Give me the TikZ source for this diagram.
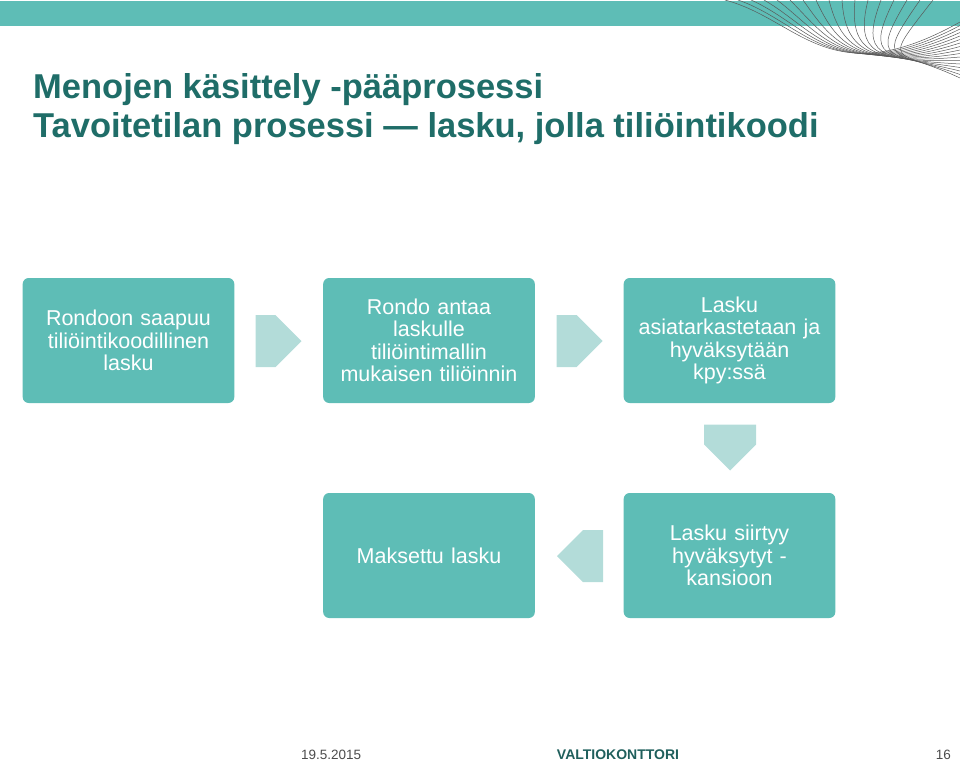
\documentclass[tikz,border=0pt]{standalone}
\usepackage{fontspec}
\setmainfont{Liberation Sans}
\usetikzlibrary{positioning, shapes.arrows}
\definecolor{boxcolor}{HTML}{5EBDB6}
\definecolor{arrowcolor}{HTML}{B3DCD9}
\definecolor{titlecolor}{HTML}{1F6D68}
\definecolor{footcolor}{HTML}{1F5F5C}
\tikzstyle{box} = [fill=boxcolor, rounded corners=6pt, minimum width=211pt, minimum height=125pt, text width=205pt, align=center, text=white, font=\fontsize{21.5}{22.5}\selectfont]
\tikzstyle{flow} = [single arrow, fill=arrowcolor, minimum height=46pt, minimum width=52pt, single arrow head extend=0pt, inner sep=0pt, single arrow tip angle=90]
\tikzstyle{wave} = [draw=gray!70!black, line width=0.5pt]

\begin{document}
\begin{tikzpicture}[x=1pt, y=-1pt]
    \useasboundingbox (0,0) rectangle (960,761);

    % Banner
    \fill[boxcolor] (0,1) rectangle (960,26);
    \foreach \i in {0,...,16}
        \draw [wave] (725+13*\i,0) .. controls (800+5*\i,20+3*\i) and (830+4*\i,95-3*\i) .. (960,22+3.5*\i);

    % Title
    \node (title) [anchor=base west, inner sep=0pt, text=titlecolor, font=\bfseries\fontsize{34.5}{39}\selectfont, align=left] at (33,137) {Menojen käsittely -pääprosessi\\Tavoitetilan prosessi — lasku, jolla tiliöintikoodi};

    % Nodes
    \node (1) [box] at (128.5,340.5) {Rondoon saapuu\\tiliöintikoodillinen\\lasku};
    \node (2) [box] at (429,340.5) {Rondo antaa\\laskulle\\tiliöintimallin\\mukaisen tiliöinnin};
    \node (3) [box] at (729.5,340.5) {Lasku\\asiatarkastetaan ja\\hyväksytään\\kpy:ssä};
    \node (5) [box] at (729.5,555.5) {Lasku siirtyy\\hyväksytyt -\\kansioon};
    \node (4) [box] at (429,555.5) {Maksettu lasku};

    % Arrows
    \node (a12) [flow] at (265.5,341) {};
    \node (a23) [flow] at (566.5,341) {};
    \node (a35) [flow, shape border rotate=270] at (730,434.5) {};
    \node (a54) [flow, shape border rotate=180] at (593,556) {};

    % Footer
    \node (date) [anchor=base west, inner sep=0pt, text=gray!60!black, font=\fontsize{13.5}{14}\selectfont] at (301,759) {19.5.2015};
    \node (logo) [anchor=base, inner sep=0pt, text=footcolor, font=\bfseries\fontsize{14}{15}\selectfont] at (618,759) {VALTIOKONTTORI};
    \node (page) [anchor=base east, inner sep=0pt, text=gray!60!black, font=\fontsize{13.5}{14}\selectfont] at (951,759) {16};
\end{tikzpicture}
\end{document}
